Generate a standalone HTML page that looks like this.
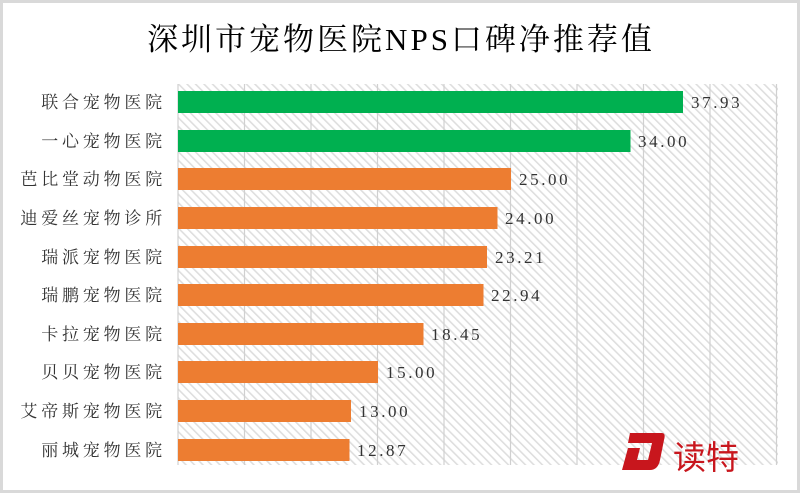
<!DOCTYPE html>
<html><head><meta charset="utf-8"><style>
body{margin:0;background:#fff}
</style></head><body>
<svg width="800" height="493" xmlns="http://www.w3.org/2000/svg">
<defs>
<pattern id="h" width="6" height="6" patternUnits="userSpaceOnUse" patternTransform="rotate(-45)">
<rect width="6" height="6" fill="#fff"/><rect width="1.6" height="6" fill="#dedede"/>
</pattern>
</defs>
<rect x="0" y="0" width="800" height="493" fill="#fff"/>
<rect x="1.5" y="1.5" width="797" height="490" fill="none" stroke="#d9d9d9" stroke-width="3"/>
<text x="401" y="50" text-anchor="middle" font-family="'Liberation Serif','Noto Serif CJK SC',serif" font-size="31" letter-spacing="3" fill="#000">深圳市宠物医院NPS口碑净推荐值</text>
<rect x="178" y="84" width="600" height="381" fill="url(#h)"/>
<g stroke="#d0d0d0" stroke-width="1.2">
<line x1="178" y1="84" x2="178" y2="465"/><line x1="244.5" y1="84" x2="244.5" y2="465"/><line x1="311" y1="84" x2="311" y2="465"/><line x1="377.5" y1="84" x2="377.5" y2="465"/><line x1="444" y1="84" x2="444" y2="465"/><line x1="510.5" y1="84" x2="510.5" y2="465"/><line x1="577" y1="84" x2="577" y2="465"/><line x1="643.5" y1="84" x2="643.5" y2="465"/><line x1="710" y1="84" x2="710" y2="465"/><line x1="776.5" y1="84" x2="776.5" y2="465"/>
</g>
<g font-family="'Liberation Serif','Noto Serif CJK SC',serif" font-size="17" letter-spacing="3.8" fill="#333">
<g text-anchor="end">
<text x="166" y="108">联合宠物医院</text>
<text x="166" y="147">一心宠物医院</text>
<text x="166" y="185">芭比堂动物医院</text>
<text x="166" y="224">迪爱丝宠物诊所</text>
<text x="166" y="263">瑞派宠物医院</text>
<text x="166" y="301">瑞鹏宠物医院</text>
<text x="166" y="340">卡拉宠物医院</text>
<text x="166" y="378">贝贝宠物医院</text>
<text x="166" y="417">艾帝斯宠物医院</text>
<text x="166" y="456">丽城宠物医院</text>
</g>
</g>
<g>
<rect x="178" y="91" width="505" height="22" fill="#00b050"/>
<rect x="178" y="130" width="452.5" height="22" fill="#00b050"/>
<rect x="178" y="168" width="333" height="22" fill="#ed7d31"/>
<rect x="178" y="207" width="319.5" height="22" fill="#ed7d31"/>
<rect x="178" y="246" width="309" height="22" fill="#ed7d31"/>
<rect x="178" y="284" width="305.5" height="22" fill="#ed7d31"/>
<rect x="178" y="323" width="245.5" height="22" fill="#ed7d31"/>
<rect x="178" y="361" width="200" height="22" fill="#ed7d31"/>
<rect x="178" y="400" width="173" height="22" fill="#ed7d31"/>
<rect x="178" y="439" width="171.5" height="22" fill="#ed7d31"/>
</g>
<g font-family="'Liberation Serif',serif" font-size="17" letter-spacing="2.6" fill="#333">
<text x="691" y="108">37.93</text>
<text x="638" y="147">34.00</text>
<text x="519" y="185">25.00</text>
<text x="505" y="224">24.00</text>
<text x="495" y="263">23.21</text>
<text x="491" y="301">22.94</text>
<text x="431" y="340">18.45</text>
<text x="386" y="378">15.00</text>
<text x="359" y="417">13.00</text>
<text x="357" y="456">12.87</text>
</g>
<g>
<path d="M630 433 L662 433 Q666 433 664 440 L660 460 Q658 470 650 470 L622 470 L628 448 L640 448 L637 460 L648 460 L652 443 L628 443 Z" fill="#c8161d"/>
<text x="673" y="469" font-family="'Noto Sans CJK SC',sans-serif" font-size="33" fill="#c8161d">读特</text>
</g>
</svg>
</body></html>
